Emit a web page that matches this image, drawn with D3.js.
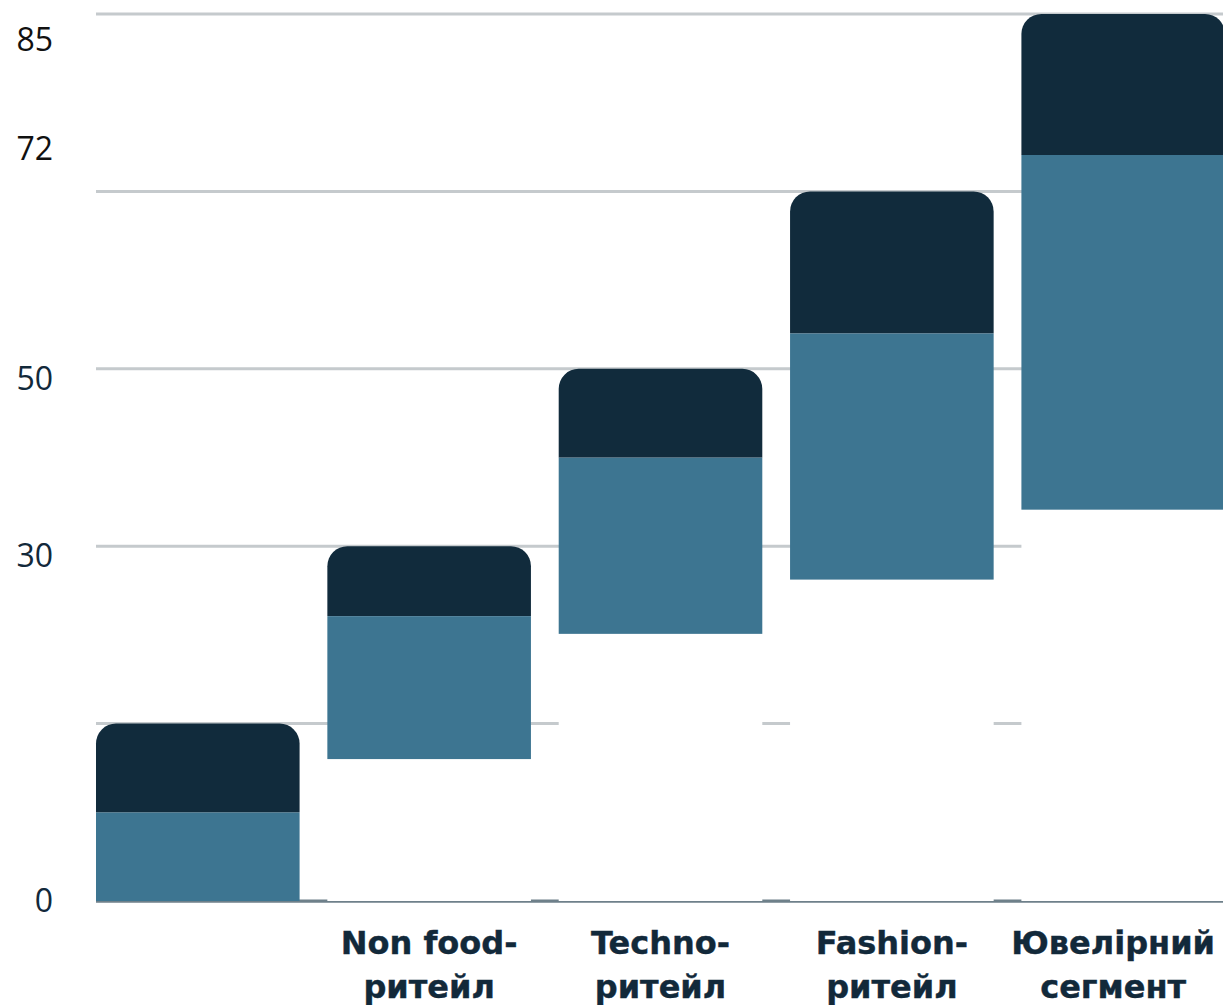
<!DOCTYPE html>
<html>
<head>
<meta charset="utf-8">
<script src="https://cdn.jsdelivr.net/npm/d3@7"></script>
<style>
  html, body { margin: 0; padding: 0; background: #ffffff; }
  svg { display: block; }
</style>
</head>
<body>
<svg id="chart" width="1223" height="1005"></svg>
<script>
// Category labels (each entry split into its two printed lines)
const categoryLines = [
  [],
  ["Non food-", "ритейл"],
  ["Techno-", "ритейл"],
  ["Fashion-", "ритейл"],
  ["Ювелірний", "сегмент"]
];

// Floating range for each category: where it starts, where the lower
// segment ends and where the upper segment ends
const rangeStart = [0, 13.6, 25.6, 30.8, 37.5];
const lowerEnd   = [8.5, 27.3, 42.5, 54.4, 71.5];
const upperEnd   = [17, 34, 51, 68, 85];

// Grid lines and the value labels on the left
const gridValues = [0, 17, 34, 51, 68, 85];
const yLabelAt   = [0, 33, 50, 72, 82.5];
const yLabelText = ["0", "30", "50", "72", "85"];

const colors = {
  lower: "#3d7591",
  upper: "#112b3c",
  grid: "#c5cacd",
  zero: "#6e808a",
  text: "#12293a"
};

const W = 1223, H = 1005;
const plot = { left: 96, right: 1225, top: 14, bottom: 901 };

const svg = d3.select("#chart");

const x = d3.scaleBand()
  .domain(d3.range(categoryLines.length))
  .range([plot.left, plot.right])
  .paddingInner(0.12)
  .paddingOuter(0);

const y = d3.scaleLinear()
  .domain([0, 85])
  .range([plot.bottom, plot.top]);

// Horizontal grid lines
svg.append("g")
  .selectAll("line")
  .data(gridValues)
  .join("line")
  .attr("x1", plot.left)
  .attr("x2", W)
  .attr("y1", d => y(d))
  .attr("y2", d => y(d))
  .attr("stroke", d => d === 0 ? colors.zero : colors.grid)
  .attr("stroke-width", 3);

// Thin base line
svg.append("line")
  .attr("x1", plot.left).attr("x2", W)
  .attr("y1", y(0) + 1).attr("y2", y(0) + 1)
  .attr("stroke", colors.zero)
  .attr("stroke-width", 1);

// Rounded-top rectangle path
function roundTop(x0, y0, w, h, r) {
  r = Math.min(r, w / 2, h);
  return `M${x0},${y0 + h}` +
    `V${y0 + r}` +
    `A${r},${r} 0 0 1 ${x0 + r},${y0}` +
    `H${x0 + w - r}` +
    `A${r},${r} 0 0 1 ${x0 + w},${y0 + r}` +
    `V${y0 + h}Z`;
}

const idx = d3.range(categoryLines.length);
const bars = svg.append("g");

// Invisible offset segment below each range (hides the grid beneath it)
bars.selectAll("rect.base")
  .data(idx)
  .join("rect")
  .attr("class", "base")
  .attr("x", i => x(i))
  .attr("width", x.bandwidth())
  .attr("y", i => y(rangeStart[i]))
  .attr("height", i => y(0) - y(rangeStart[i]))
  .attr("fill", "#ffffff");

// Lower segment
bars.selectAll("rect.lower")
  .data(idx)
  .join("rect")
  .attr("class", "lower")
  .attr("x", i => x(i))
  .attr("width", x.bandwidth())
  .attr("y", i => y(lowerEnd[i]))
  .attr("height", i => y(rangeStart[i]) - y(lowerEnd[i]))
  .attr("fill", colors.lower);

// Upper segment with rounded top corners
bars.selectAll("path.upper")
  .data(idx)
  .join("path")
  .attr("class", "upper")
  .attr("d", i => roundTop(x(i), y(upperEnd[i]), x.bandwidth(),
                           y(lowerEnd[i]) - y(upperEnd[i]), 20))
  .attr("fill", colors.upper);

// Value labels on the left
const yAxis = d3.axisLeft(y)
  .tickValues(yLabelAt)
  .tickFormat((d, i) => yLabelText[i])
  .tickSize(0)
  .tickPadding(43);

const yAxisG = svg.append("g")
  .attr("transform", `translate(${plot.left},0)`)
  .call(yAxis);
yAxisG.select(".domain").remove();
yAxisG.selectAll("text")
  .attr("font-family", "'Open Sans', sans-serif")
  .attr("font-size", 32)
  .attr("fill", (d, i) => i >= 3 ? "#111111" : colors.text);

// Category labels below the bars
const labels = svg.append("g")
  .selectAll("text")
  .data(idx.filter(i => categoryLines[i].length))
  .join("text")
  .attr("font-family", "'DejaVu Sans', Verdana, sans-serif")
  .attr("font-weight", "bold")
  .attr("font-size", 32)
  .attr("fill", colors.text)
  .attr("stroke", colors.text)
  .attr("stroke-width", 0.4)
  .attr("text-anchor", "middle");

labels.selectAll("tspan")
  .data(i => categoryLines[i].map(t => ({ t, i })))
  .join("tspan")
  .attr("y", (d, k) => 954 + k * 44)
  .text(d => d.t);

// Center each label on its band, keeping it inside the drawing area
labels.each(function(i) {
  const node = this;
  let cx = x(i) + x.bandwidth() / 2;
  const w = d3.max(Array.from(node.querySelectorAll("tspan")), s => s.getComputedTextLength());
  if (cx + w / 2 > W - 8) cx = W - 8 - w / 2;
  d3.select(node).selectAll("tspan").attr("x", cx);
});
</script>
</body>
</html>
